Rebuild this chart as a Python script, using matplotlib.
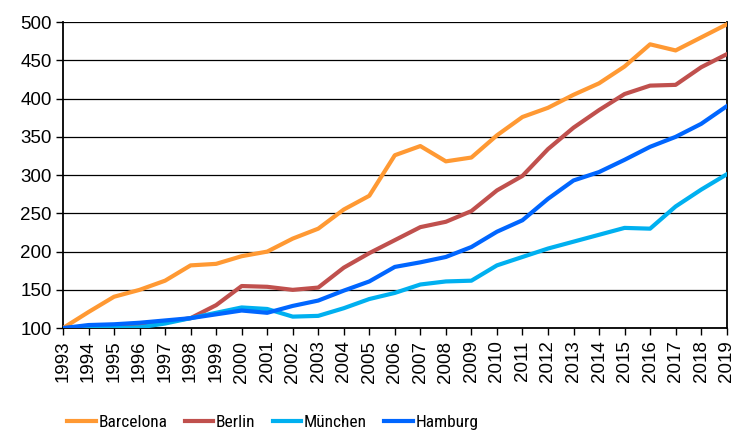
import numpy as np
import matplotlib.pyplot as plt

# Datos (indice 1993 = 100)
anios = list(range(1993, 2020))
barcelona = [100, 121, 141, 150, 162, 182, 184, 194, 200, 217, 230, 255, 273,
             326, 338, 318, 323, 352, 376, 388, 405, 420, 442, 471, 463, 480, 497]
berlin = [100, 102, 103, 105, 108, 113, 130, 155, 154, 150, 153, 179, 198,
          215, 232, 239, 253, 280, 299, 334, 362, 385, 406, 417, 418, 441, 458]
muenchen = [100, 100, 100, 101, 106, 113, 120, 127, 125, 115, 116, 126, 138,
            146, 157, 161, 162, 182, 193, 204, 213, 222, 231, 230, 259, 281, 301]
hamburg = [100, 104, 105, 107, 110, 113, 118, 123, 120, 129, 136, 149, 161,
           180, 186, 193, 206, 226, 241, 269, 293, 304, 320, 337, 350, 367, 390]

plt.rcParams['font.family'] = ['Liberation Sans', 'DejaVu Sans']

fig = plt.figure(figsize=(7.34, 4.34), dpi=100)
ax = fig.add_axes([0.0858, 0.244, 0.9042, 0.705])

x = np.arange(len(anios))
ax.plot(x, barcelona, color='#FF9933', lw=3, label='Barcelona', zorder=3)
ax.plot(x, berlin, color='#C0504D', lw=3, label='Berlin', zorder=3)
ax.plot(x, muenchen, color='#00B0F0', lw=3, label='München', zorder=3)
ax.plot(x, hamburg, color='#0066FF', lw=3, label='Hamburg', zorder=3)

ax.set_xlim(0, len(anios) - 1)
ax.set_ylim(100, 500)
ax.set_yticks(range(100, 501, 50))
ax.set_xticks(x)
ax.set_xticklabels([str(a) for a in anios], rotation=90)
ax.tick_params(axis='both', labelsize=13.5, length=5, width=1, color='black')
ax.tick_params(axis='x', pad=4)
ax.tick_params(axis='y', pad=3)
ax.grid(axis='y', color='black', lw=0.9)
ax.set_axisbelow(True)
for s in ['left', 'bottom', 'right']:
    ax.spines[s].set_linewidth(1.3)
ax.spines['top'].set_visible(False)

fig.legend(loc='center left', bbox_to_anchor=(67 / 734, 1 - 422 / 434), ncol=4,
           frameon=False, borderpad=0, borderaxespad=0,
           handlelength=1.65, handletextpad=0.15, columnspacing=1.0,
           prop={'family': 'Roboto Condensed', 'size': 12.5})

fig.savefig('out.png', dpi=100)
